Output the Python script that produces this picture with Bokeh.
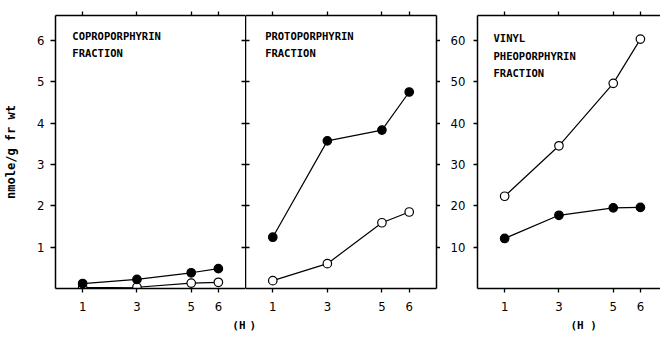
from bokeh.plotting import figure
from bokeh.layouts import row
from bokeh.models import LinearAxis, FixedTicker, Range1d, Label, Title
from bokeh.embed import file_html
from bokeh.resources import INLINE

hours = [1, 3, 5, 6]
copro_filled = [0.12, 0.22, 0.38, 0.48]
copro_open = [0.02, 0.03, 0.13, 0.15]
proto_filled = [1.24, 3.57, 3.83, 4.75]
proto_open = [0.19, 0.60, 1.59, 1.85]
vinyl_open = [22.3, 34.5, 49.6, 60.3]
vinyl_filled = [12.1, 17.7, 19.5, 19.6]

yticks_small = [1, 2, 3, 4, 5, 6]
yticks_large = [10, 20, 30, 40, 50, 60]
titles = [["COPROPORPHYRIN", "FRACTION"],
          ["PROTOPORPHYRIN", "FRACTION"],
          ["VINYL", "PHEOPORPHYRIN", "FRACTION"]]
ylabel = "nmole/g fr wt"

TICKFONT = "'Liberation Sans Narrow', 'DejaVu Sans Condensed', sans-serif"
MONO = "DejaVu Sans Mono"
H = 339
TOP = 15
BOTTOM = 51


def base(width, xmax, ymax, bl, br):
    p = figure(width=width, height=H, output_backend="svg", toolbar_location=None,
               x_range=Range1d(0, xmax), y_range=Range1d(0, ymax),
               x_axis_location=None, y_axis_location=None,
               min_border_left=bl, min_border_right=br,
               min_border_top=TOP, min_border_bottom=BOTTOM)
    p.xgrid.visible = False
    p.ygrid.visible = False
    p.outline_line_color = None
    p.background_fill_color = "white"
    p.border_fill_color = "white"
    return p


def style_axis(ax, ticks, labels=True, tin=0, tout=4, line=True):
    ax.axis_line_width = 1.5
    ax.axis_line_color = "black" if line else None
    if labels:
        ax.ticker = FixedTicker(ticks=ticks)
        ax.minor_tick_line_color = None
        ax.major_tick_in = tin
        ax.major_tick_out = tout
        ax.major_tick_line_width = 1.3
        ax.major_tick_line_color = "black"
        ax.major_label_text_font = TICKFONT
        ax.major_label_text_font_size = "13px"
        ax.major_label_text_color = "black"
    else:
        ax.ticker = FixedTicker(ticks=[], minor_ticks=ticks)
        ax.major_tick_line_color = None
        ax.minor_tick_in = tin
        ax.minor_tick_out = tout
        ax.minor_tick_line_width = 1.3
        ax.minor_tick_line_color = "black"
    return ax


def add_series(p, ys_open, ys_filled):
    for ys, fill in ((ys_open, "white"), (ys_filled, "black")):
        p.line(hours, ys, line_color="black", line_width=1.2)
        p.scatter(hours, ys, size=8.5, fill_color=fill, line_color="black", line_width=1.2)


def add_title(p, lines, x, y0, dy):
    for i, t in enumerate(lines):
        p.add_layout(Label(x=x, y=y0 - i * dy, text=t, text_font=MONO, text_font_style="bold",
                           text_font_size="10.5px", text_color="black"))


def add_hour_label(p, text, align, offset):
    p.add_layout(Title(text=text, align=align, offset=offset, text_font=MONO,
                       text_font_style="bold", text_font_size="11px", text_color="black",
                       standoff=7), "below")


def bottom_axis(p):
    b = style_axis(LinearAxis(), hours)
    b.major_label_standoff = 9
    p.add_layout(b, "below")


# Panel 1
p1 = base(245, 7, 6.6, 55, 0)
bottom_axis(p1)
p1.add_layout(style_axis(LinearAxis(), hours, labels=False), "above")
l = style_axis(LinearAxis(), yticks_small, tout=5)
l.major_label_standoff = 6
l.axis_label = ylabel
l.axis_label_text_font = MONO
l.axis_label_text_font_style = "bold"
l.axis_label_text_font_size = "12px"
l.axis_label_text_color = "black"
l.axis_label_standoff = 16
p1.add_layout(l, "left")
p1.add_layout(style_axis(LinearAxis(), yticks_small, labels=False, tin=4, tout=0, line=False), "right")
add_series(p1, copro_open, copro_filled)
add_title(p1, titles[0], 0.62, 5.96, 0.42)
add_hour_label(p1, "(H", "right", 0)

# Panel 2
p2 = base(195, 7, 6.6, 0, 0)
bottom_axis(p2)
p2.add_layout(style_axis(LinearAxis(), hours, labels=False), "above")
p2.add_layout(style_axis(LinearAxis(), yticks_small, labels=False, tin=4, tout=0), "left")
p2.add_layout(style_axis(LinearAxis(), yticks_small, labels=False, tin=0, tout=4), "right")
add_series(p2, proto_open, proto_filled)
add_title(p2, titles[1], 0.72, 5.96, 0.42)
add_hour_label(p2, ")", "left", 4)

# Panel 3
p3 = base(220, 6.74, 66, 37, 0)
bottom_axis(p3)
p3.add_layout(style_axis(LinearAxis(), hours, labels=False), "above")
l3 = style_axis(LinearAxis(), yticks_large, tout=4)
l3.major_label_standoff = 8
p3.add_layout(l3, "left")
add_series(p3, vinyl_open, vinyl_filled)
add_title(p3, titles[2], 0.59, 59.1, 4.25)
add_hour_label(p3, "(H )", "left", 93)

layout = row(p1, p2, p3, spacing=0)
open("out.html", "w").write(file_html(layout, INLINE))
